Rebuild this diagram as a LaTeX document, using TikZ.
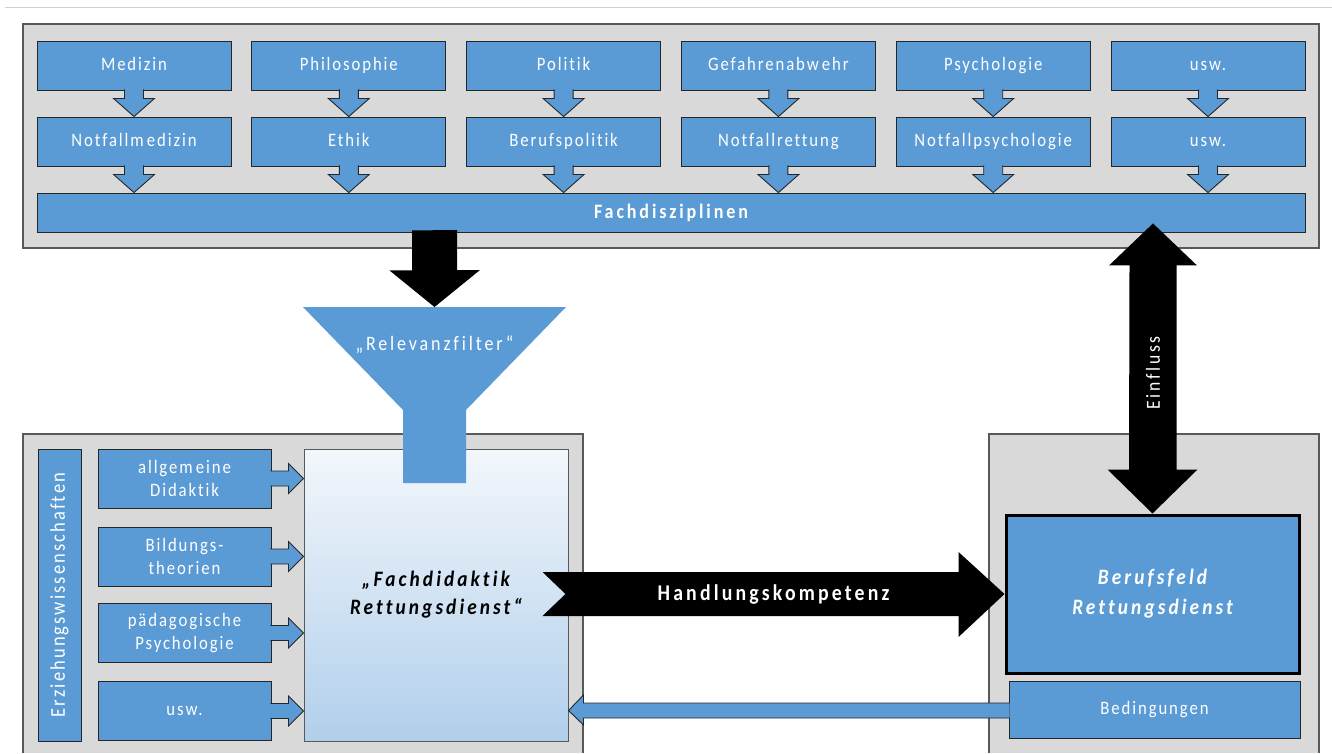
\documentclass[tikz,border=0pt]{standalone}
\usepackage{fontspec}
\setmainfont{Carlito}
\newfontfamily\diafont{Carlito}[FakeStretch=0.88,LetterSpace=10,Ligatures=NoCommon]
\newfontfamily\widefont{Carlito}[FakeStretch=0.88,LetterSpace=14,Ligatures=NoCommon]
\usetikzlibrary{calc}
\definecolor{boxblue}{HTML}{5B9BD5}
\definecolor{boxedge}{HTML}{262626}
\definecolor{framegray}{HTML}{D9D9D9}
\definecolor{framedraw}{HTML}{595959}
\definecolor{linegray}{HTML}{CFCFCF}
\definecolor{gradtop}{HTML}{F3F7FC}
\definecolor{gradbot}{HTML}{B1CFEB}
% small blue tab arrows, #1 = start anchor, #2 = tip
\newcommand{\downtab}[2]{%
  \fill[boxblue] ($#1+(-9.5,-1)$) -- ++(0,9) -- ++(-11,0) -- #2 -- ($#1+(20.5,8)$) -- ++(-11,0) -- ++(0,-9) -- cycle;
  \draw[tabedge] ($#1+(-9.5,-1)$) -- ++(0,9) -- ++(-11,0) -- #2 -- ($#1+(20.5,8)$) -- ++(-11,0) -- ++(0,-9);}
\newcommand{\righttab}[2]{%
  \fill[boxblue] ($#1+(-1,-7.5)$) -- ++(18,0) -- ++(0,-7.5) -- #2 -- ($#1+(17,15)$) -- ++(0,-7.5) -- ++(-18,0) -- cycle;
  \draw[tabedge] ($#1+(-1,-7.5)$) -- ++(18,0) -- ++(0,-7.5) -- #2 -- ($#1+(17,15)$) -- ++(0,-7.5) -- ++(-18,0);}
\begin{document}
\begin{tikzpicture}[x=1pt, y=-1pt]
  \tikzset{
    frame/.style={fill=framegray},
    frameedge/.style={draw=framedraw, line width=1.2pt},
    tabedge/.style={draw=boxedge, line width=0.9pt},
    bluebox/.style={fill=boxblue, draw=boxedge, line width=0.9pt, text=white, inner sep=0pt,
      align=center, font=\diafont\fontsize{19}{23}\selectfont},
    toprow/.style={bluebox, minimum width=194pt, minimum height=49pt, text height=13pt, text depth=4pt},
    sidebox/.style={bluebox, minimum width=173pt, minimum height=59pt},
    bigtext/.style={font=\widefont\bfseries\itshape\fontsize{22}{28}\selectfont}
  }
  \useasboundingbox (0,0) rectangle (1332,753);
  \draw[linegray, line width=1pt] (5,7) -- (1332,7);

  % Fachdisziplinen
  \node[frame, frameedge, minimum width=1296pt, minimum height=224pt] (topframe) at (671,136) {};
  \foreach \upper/\lower [count=\i] in {Medizin/Notfallm\,edizin, Philosophie/Ethik, Politik/Berufspolitik,
      Gefahrenabw\,ehr/Notfallrettung, Psychologie/Notfallpsychologie, usw./usw.} {
    \node[toprow] (fa\i) at ({134+(\i-1)*214.8}, 65.5) {\upper};
    \node[toprow] (fb\i) at ({134+(\i-1)*214.8}, 141.5) {\lower};
  }
  \node[bluebox, minimum width=1268pt, minimum height=39pt,
    font=\widefont\bfseries\fontsize{20.5}{24}\selectfont] (fach) at (671,212.5) {Fachdisziplinen};
  \foreach \i in {1,...,6} {
    \downtab{(fa\i.south)}{(fb\i.north)}
    \downtab{(fb\i.south)}{(fb\i.south |- fach.north)}
  }

  % Erziehungswissenschaften
  \fill[frame] (23,434) rectangle (583,753);
  \draw[frameedge] (23,753) -- (23,434) -- (583,434) -- (583,753);
  \node[bluebox, rotate=90, minimum width=292pt, minimum height=43pt,
    font=\diafont\fontsize{21}{24}\selectfont] (ezw) at (59.5,595) {Erziehungswissenschaften};
  \node[draw=framedraw, line width=1pt, top color=gradtop, bottom color=gradbot, minimum width=264pt,
    minimum height=292pt, inner sep=0pt, align=center, bigtext] (fdid) at (436,595) {„Fachdidaktik\\Rettungsdienst“};
  \foreach \txt/\yc [count=\i] in {{allgem\,eine\\Didaktik}/478.5, {Bildungs-\\theorien}/556.5,
      {pädagogische\\Psychologie}/633, {usw.}/711} {
    \node[sidebox] (s\i) at (184.5,\yc) {\txt};
    \righttab{(s\i.east)}{(fdid.west |- s\i.east)}
  }

  % Filter
  \coordinate (ftop) at (434.5,307);
  \fill[black] ($(fach.south -| ftop)+(-22.5,-2)$) -- ++(0,40) -- ++(-22.5,0) -- (ftop)
    -- ($(ftop)+(45.5,-37)$) -- ++(-23,0) -- ++(0,-40) -- cycle;
  \fill[boxblue] ($(ftop)+(-131.5,0)$) -- ($(ftop)+(131.5,0)$) -- ($(ftop)+(31.5,103)$) -- ++(0,73)
    -- ++(-63,0) -- ++(0,-73) -- cycle;
  \node[text=white, font=\widefont\fontsize{20.5}{24}\selectfont] (filter) at ($(ftop)+(0,38)$) {„Relevanzfilter“};

  % Berufsfeld
  \fill[frame] (989,434) rectangle (1319,753);
  \draw[frameedge] (989,753) -- (989,434) -- (1319,434) -- (1319,753);
  \node[bluebox, draw=black, line width=3pt, minimum width=293pt, minimum height=158pt,
    font=\widefont\bfseries\itshape\fontsize{22}{30}\selectfont] (beruf) at (1152.5,594) {Berufsfeld\\Rettungsdienst};
  \node[bluebox, minimum width=291pt, minimum height=57pt] (bed) at (1154.5,709.5) {Bedingungen};

  \fill[black] ($(fdid.east |- beruf.west)+(-26,-22)$) -- ($(beruf.west)+(-46,-22)$) -- ++(0,-20) -- (beruf.west)
    -- ($(beruf.west)+(-46,43)$) -- ++(0,-21) -- ($(fdid.east |- beruf.west)+(-26,22)$)
    -- ($(fdid.east |- beruf.west)+(-3,0)$) -- cycle;
  \node[text=white, font=\widefont\bfseries\fontsize{22.5}{26}\selectfont] (hk)
    at ($($(fdid.east |- beruf.west)+(-26,0)$)!0.5!(beruf.west)$) {Handlungskompetenz};

  \fill[boxblue] ($(bed.west)+(1,-6.5)$) -- ($(fdid.east |- bed.west)+(15,-6.5)$) -- ++(0,-8) -- ($(fdid.east |- bed.west)+(0,1)$)
    -- ($(fdid.east |- bed.west)+(15,15.5)$) -- ++(0,-7) -- ($(bed.west)+(1,8.5)$) -- cycle;
  \draw[tabedge] ($(bed.west)+(1,-6.5)$) -- ($(fdid.east |- bed.west)+(15,-6.5)$) -- ++(0,-8) -- ($(fdid.east |- bed.west)+(0,1)$)
    -- ($(fdid.east |- bed.west)+(15,15.5)$) -- ++(0,-7) -- ($(bed.west)+(1,8.5)$);

  % Einfluss
  \coordinate (etop) at ($(beruf.north |- fach.south)+(0.5,-9)$);
  \fill[black] (etop) -- ++(44,42) -- ++(-20.5,0) -- ($(beruf.north)+(24,-44)$) -- ++(21,0) -- (beruf.north)
    -- ($(beruf.north)+(-45,-44)$) -- ++(21.5,0) -- ($(etop)+(-23.5,42)$) -- ++(-20.5,0) -- cycle;
  \node[text=white, rotate=90, font=\widefont\fontsize{20}{24}\selectfont] (einfluss) at (1153,373) {Einfluss};
\end{tikzpicture}
\end{document}
